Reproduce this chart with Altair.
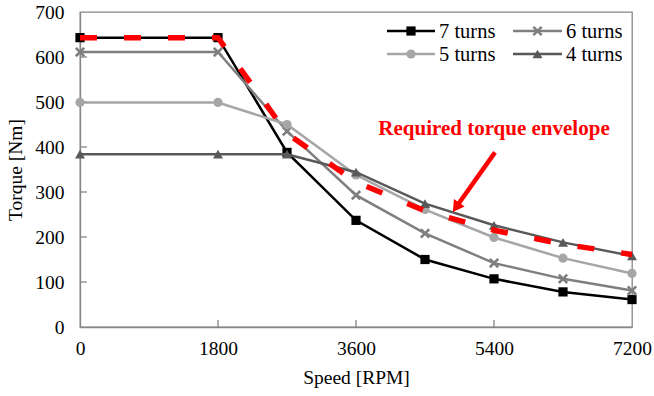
import altair as alt
import pandas as pd

# Motor speed sample points [RPM]
speed = [0, 1800, 2700, 3600, 4500, 5400, 6300, 7200]

# Torque [Nm] for each winding configuration
torque_7 = [643, 643, 388, 237, 150, 107, 78, 61]
torque_6 = [611, 611, 435, 293, 208, 142, 107, 81]
torque_5 = [499, 499, 450, 338, 261, 199, 153, 119]
torque_4 = [384, 384, 384, 344, 274, 226, 188, 158]

# Required torque envelope
envelope = [643, 643, 430, 322, 258, 215, 184, 161]

series_names = ["7 turns", "6 turns", "5 turns", "4 turns"]
series_values = [torque_7, torque_6, torque_5, torque_4]

x_ticks = [0, 1800, 3600, 5400, 7200]
y_ticks = [0, 100, 200, 300, 400, 500, 600, 700]

FONT = "Times New Roman, Liberation Serif, DejaVu Serif, serif"
FRAME = "#868686"
W, H = 552, 315

X_PATH = "M-1,-1L1,1M-1,1L1,-1"

styles = {
    "7 turns": dict(color="#000000", shape="square", filled=True, size=85),
    "6 turns": dict(color="#7f7f7f", shape=X_PATH, filled=False, size=70),
    "5 turns": dict(color="#a6a6a6", shape="circle", filled=True, size=85),
    "4 turns": dict(color="#595959", shape="triangle-up", filled=True, size=100),
}

# legend slot per series: (line start, line end, label start, row y) in plot pixels
legend_slots = {
    "7 turns": (307, 355, 359, 19),
    "6 turns": (433, 482, 486, 19),
    "5 turns": (307, 355, 359, 42),
    "4 turns": (433, 482, 486, 42),
}

x_scale = alt.Scale(domain=[0, 7200], nice=False, zero=False)
y_scale = alt.Scale(domain=[0, 700], nice=False)

x_axis = alt.Axis(values=x_ticks, format="d", title="Speed [RPM]",
                  labelPadding=12, titlePadding=11, labelFlush=False)
y_axis = alt.Axis(values=y_ticks, format="d", title="Torque [Nm]",
                  labelPadding=16, titlePadding=9)

layers = []

# axes carried by an invisible rule layer
axis_df = pd.DataFrame({"speed": [0], "torque": [0]})
layers.append(
    alt.Chart(axis_df).mark_rule(opacity=0).encode(
        x=alt.X("speed:Q", scale=x_scale, axis=x_axis),
        y=alt.Y("torque:Q", scale=y_scale, axis=y_axis),
    )
)

# inward tick marks
layers.append(
    alt.Chart(pd.DataFrame({"v": x_ticks[1:-1]})).mark_rule(
        color=FRAME, strokeWidth=1.3
    ).encode(x=alt.X("v:Q", scale=x_scale), y=alt.value(H), y2=alt.value(H - 7))
)
layers.append(
    alt.Chart(pd.DataFrame({"v": y_ticks[1:-1]})).mark_rule(
        color=FRAME, strokeWidth=1.3
    ).encode(y=alt.Y("v:Q", scale=y_scale), x=alt.value(0), x2=alt.value(7))
)


def marker(chart, st):
    if st["filled"]:
        return chart.mark_point(shape=st["shape"], size=st["size"], filled=True,
                                color=st["color"], opacity=1)
    return chart.mark_point(shape=st["shape"], size=st["size"], filled=False,
                            color=st["color"], strokeWidth=2.6, opacity=1)


for name, vals in zip(series_names, series_values):
    st = styles[name]
    df = pd.DataFrame({"speed": speed, "torque": vals})
    base = alt.Chart(df).encode(
        x=alt.X("speed:Q", scale=x_scale),
        y=alt.Y("torque:Q", scale=y_scale),
    )
    layers.append(base.mark_line(color=st["color"], strokeWidth=2.5))
    layers.append(marker(base, st))

# required torque envelope
env_df = pd.DataFrame({"speed": speed, "torque": envelope})
layers.append(
    alt.Chart(env_df).mark_line(
        color="#ff0000", strokeWidth=5.5, strokeDash=[17, 27], strokeCap="butt"
    ).encode(
        x=alt.X("speed:Q", scale=x_scale),
        y=alt.Y("torque:Q", scale=y_scale),
    )
)

# annotation arrow and label
arrow_df = pd.DataFrame({"x": [5413], "y": [388], "x2": [4905], "y2": [266]})
layers.append(
    alt.Chart(arrow_df).mark_rule(color="#ff0000", strokeWidth=4.5).encode(
        x=alt.X("x:Q", scale=x_scale), y=alt.Y("y:Q", scale=y_scale),
        x2="x2:Q", y2="y2:Q",
    )
)
layers.append(
    alt.Chart(arrow_df).mark_point(
        shape="triangle-up", size=170, filled=True, color="#ff0000",
        opacity=1, angle=215
    ).encode(
        x=alt.X("x2:Q", scale=x_scale), y=alt.Y("y2:Q", scale=y_scale)
    )
)
layers.append(
    alt.Chart(pd.DataFrame({"label": ["Required  torque  envelope"]})).mark_text(
        font=FONT, fontSize=21, fontWeight="bold", color="#ff0000",
        align="center", baseline="middle"
    ).encode(
        x=alt.datum(5400, scale=x_scale), y=alt.datum(439, scale=y_scale),
        text="label:N",
    )
)

# legend entries
for name in series_names:
    st = styles[name]
    x0, x1, xl, yy = legend_slots[name]
    one = alt.Chart(pd.DataFrame({"label": [name]}))
    layers.append(
        one.mark_rule(color=st["color"], strokeWidth=2.5).encode(
            x=alt.value(x0), x2=alt.value(x1), y=alt.value(yy)
        )
    )
    layers.append(marker(one, st).encode(x=alt.value((x0 + x1) / 2), y=alt.value(yy)))
    layers.append(
        one.mark_text(font=FONT, fontSize=20.5, color="#000000", align="left",
                      baseline="middle").encode(
            x=alt.value(xl), y=alt.value(yy + 1), text="label:N"
        )
    )

chart = alt.layer(*layers).properties(
    width=W, height=H,
    autosize=alt.AutoSizeParams(type="none"),
    padding={"left": 80, "top": 12, "right": 22, "bottom": 69},
    background="white",
).configure_view(
    stroke=FRAME, strokeWidth=1.3
).configure_axis(
    labelFont=FONT, labelFontSize=19.5, labelColor="#000000",
    titleFont=FONT, titleFontSize=19.5, titleFontWeight="normal",
    titleColor="#000000", grid=False, ticks=False,
    domainColor=FRAME, domainWidth=1.3,
)

chart.save("out.html", embed_options={"renderer": "svg", "actions": False})
